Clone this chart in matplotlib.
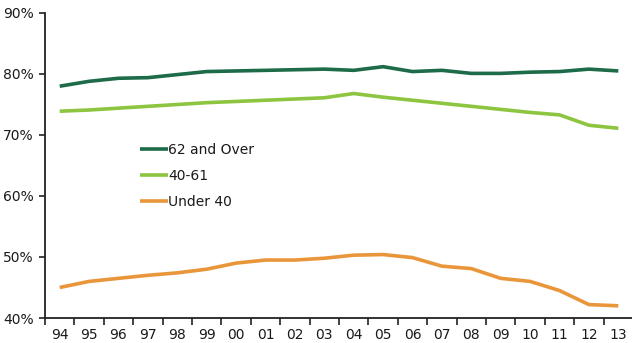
import numpy as np
import matplotlib
matplotlib.use("Agg")
import matplotlib.pyplot as plt
from matplotlib.ticker import FixedLocator, NullFormatter

years = ["94", "95", "96", "97", "98", "99", "00", "01", "02", "03",
         "04", "05", "06", "07", "08", "09", "10", "11", "12", "13"]

over62 = [78.0, 78.8, 79.3, 79.4, 79.9, 80.4, 80.5, 80.6, 80.7, 80.8,
          80.6, 81.2, 80.4, 80.6, 80.1, 80.1, 80.3, 80.4, 80.8, 80.5]
age40_61 = [73.9, 74.1, 74.4, 74.7, 75.0, 75.3, 75.5, 75.7, 75.9, 76.1,
            76.8, 76.2, 75.7, 75.2, 74.7, 74.2, 73.7, 73.3, 71.6, 71.1]
under40 = [45.0, 46.0, 46.5, 47.0, 47.4, 48.0, 49.0, 49.5, 49.5, 49.8,
           50.3, 50.4, 49.9, 48.5, 48.1, 46.5, 46.0, 44.5, 42.2, 42.0]

plt.rcParams['font.family'] = ['DejaVu Sans']
plt.rcParams['font.weight'] = 'medium'

fig = plt.figure(figsize=(6.32, 3.43), dpi=100)
ax = fig.add_axes([45/632, 1 - 318/343, 588/632, (318 - 13)/343])

x = np.arange(len(years))
ax.plot(x, over62, color="#1d6b48", lw=2.6, label="62 and Over", solid_capstyle="butt")
ax.plot(x, age40_61, color="#8dc540", lw=2.6, label="40-61", solid_capstyle="butt")
ax.plot(x, under40, color="#e9963a", lw=2.6, label="Under 40", solid_capstyle="butt")

ax.set_xlim(-0.5, len(years) - 0.5)
ax.set_ylim(40, 90)
ax.set_yticks([40, 50, 60, 70, 80, 90])
ax.set_yticklabels(["%d%%" % v for v in [40, 50, 60, 70, 80, 90]])

# labels sit between the tick marks
ax.set_xticks(x)
ax.set_xticklabels(years)
ax.tick_params(axis="x", which="major", length=0, pad=7)
ax.xaxis.set_minor_locator(FixedLocator(np.arange(-0.5, len(years) - 1, 1.0)))
ax.xaxis.set_minor_formatter(NullFormatter())
ax.tick_params(axis="x", which="minor", length=5, width=1.2, direction="out", color="#222222")
ax.tick_params(axis="y", length=4, width=1.2, color="#222222", pad=4)
ax.tick_params(labelsize=10, labelcolor="#1a1a1a")

for side in ["top", "right"]:
    ax.spines[side].set_visible(False)
for side in ["left", "bottom"]:
    ax.spines[side].set_linewidth(1.3)
    ax.spines[side].set_color("#222222")

ax.legend(loc="upper left", bbox_to_anchor=(0.14, 0.615), frameon=False,
          fontsize=10, handlelength=2.0, handletextpad=0.05,
          labelspacing=0.85, labelcolor="#1a1a1a")

fig.savefig("out.png", dpi=100)
